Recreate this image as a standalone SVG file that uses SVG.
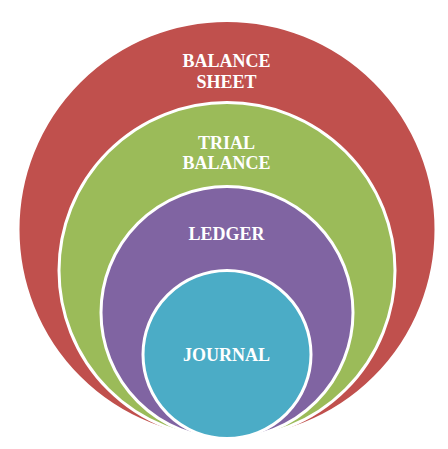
<svg xmlns="http://www.w3.org/2000/svg" width="448" height="449" viewBox="0 0 448 449">
<style>
.ring{stroke:#FFFFFF;stroke-width:3}
.lbl{font-family:"Liberation Serif","Times New Roman",serif;font-weight:bold;font-size:18px;fill:#FFFFFF;text-anchor:middle}
</style>
<rect width="448" height="449" fill="#FFFFFF"/>
<g id="balance-sheet">
<circle class="ring" cx="227" cy="229.5" r="209" fill="#C0504D"/>
<text class="lbl" x="226.5" y="66.5">BALANCE</text>
<text class="lbl" x="226.5" y="87.5">SHEET</text>
</g>
<g id="trial-balance">
<circle class="ring" cx="227" cy="270.5" r="168" fill="#9BBB59"/>
<text class="lbl" x="226.5" y="148.5">TRIAL</text>
<text class="lbl" x="226.5" y="169">BALANCE</text>
</g>
<g id="ledger">
<circle class="ring" cx="227" cy="312.5" r="126" fill="#8064A2"/>
<text class="lbl" x="226.5" y="240">LEDGER</text>
</g>
<g id="journal">
<circle class="ring" cx="227" cy="354.5" r="84" fill="#4BACC6"/>
<text class="lbl" x="226.5" y="361">JOURNAL</text>
</g>
<g id="connectors"></g>
</svg>
